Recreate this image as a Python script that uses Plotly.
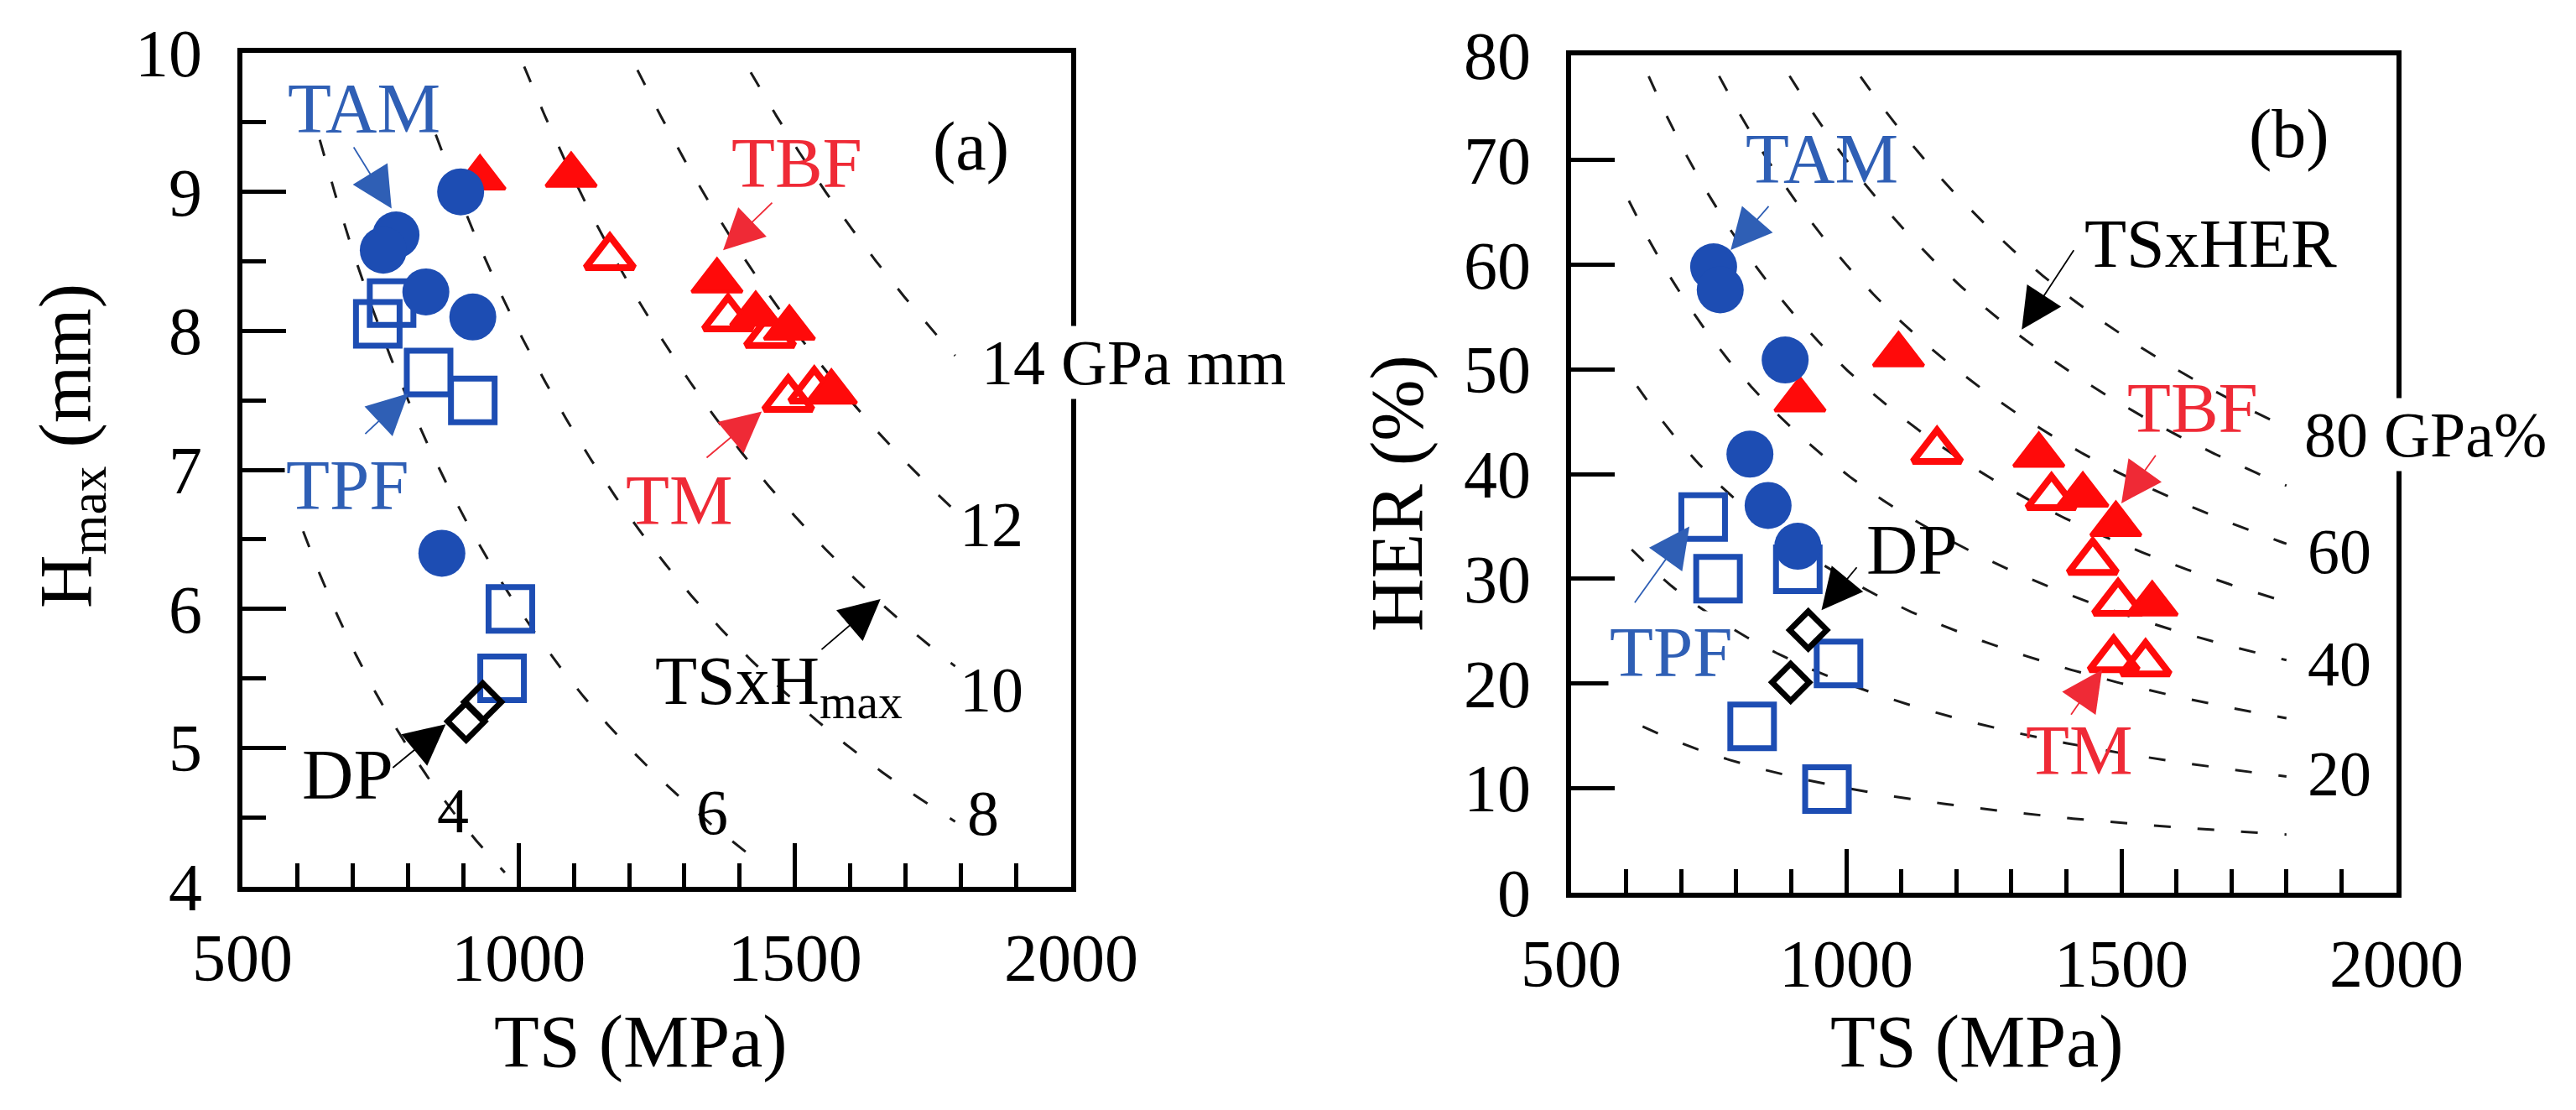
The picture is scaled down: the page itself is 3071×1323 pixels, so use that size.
import numpy as np
import plotly.graph_objects as go

# ---------------- panel (a): TS (MPa) vs Hmax (mm) ----------------
tam_a_ts = [895, 778, 755, 832, 917, 861]
tam_a_h = [9.00, 8.69, 8.58, 8.28, 8.10, 6.40]
tpf_a_ts = [770, 745, 837, 917, 985, 970]
tpf_a_h = [8.20, 8.05, 7.70, 7.50, 6.00, 5.50]
tbf_a_ts = [930, 1095, 1359, 1429, 1490, 1566]
tbf_a_h = [9.10, 9.12, 8.36, 8.12, 8.02, 7.56]
tm_a_ts = [1165, 1379, 1455, 1488, 1535]
tm_a_h = [8.53, 8.09, 7.97, 7.51, 7.57]
dp_a_ts = [905, 935]
dp_a_h = [5.19, 5.33]

# ---------------- panel (b): TS (MPa) vs HER (%) ----------------
tam_b_ts = [759, 771, 889, 825, 858, 912]
tam_b_her = [59.8, 57.6, 50.9, 41.9, 37.0, 33.1]
tpf_b_ts = [740, 767, 912, 986, 829, 965]
tpf_b_her = [35.9, 30.0, 30.9, 21.9, 15.9, 9.9]
tbf_b_ts = [916, 1095, 1350, 1430, 1490, 1556]
tbf_b_her = [47.1, 51.4, 41.8, 38.0, 35.2, 27.6]
tm_b_ts = [1165, 1373, 1448, 1494, 1486, 1544]
tm_b_her = [42.2, 37.8, 31.6, 27.7, 22.3, 21.9]
dp_b_ts = [931, 899]
dp_b_her = [25.1, 20.1]

# iso-product guide curves  TS x H = const (GPa mm)  and TS x HER = const (GPa %)
iso_a_levels = [4, 6, 8, 10, 12, 14]
iso_a_ts_start = [610, 640, 850, 1010, 1215, 1420]
iso_a_ts_end = [975, 1420, 1790, 1790, 1790, 1790]
iso_b_levels = [10, 20, 30, 40, 50, 60, 70, 80]
iso_b_ts_start = [630, 610, 620, 605, 641, 769, 897, 1026]
iso_b_ts_end = [1800, 1800, 1800, 1800, 1800, 1800, 1800, 1800]

iso_a_label_text = ["4", "6", "8", "10", "12", "14 GPa mm"]
iso_a_label_ts = [881, 1350, 1840, 1856, 1856, 1834]
iso_a_label_h = [4.55, 4.54, 4.53, 5.42, 6.61, 7.77]
iso_b_label_text = ["20", "40", "60", "80 GPa%"]
iso_b_label_ts = [1896, 1896, 1896, 1830]
iso_b_label_her = [11.4, 21.9, 32.6, 43.8]

# series labels and arrows
lab_a_text = ["TAM", "TPF", "TBF", "TM", "DP"]
lab_a_ts = [720, 690, 1503, 1291, 691]
lab_a_h = [9.60, 6.89, 9.21, 6.78, 4.81]
lab_b_text = ["TAM", "TPF", "TBF", "TM", "DP", "TSxHER"]
lab_b_ts = [956, 681, 1630, 1424, 1119, 1662]
lab_b_her = [70.1, 23.0, 46.3, 13.6, 32.8, 62.0]

arr_a_tail_ts = [700, 720, 1461, 1338, 770, 1546]
arr_a_tail_h = [9.33, 7.25, 8.93, 7.08, 4.85, 5.70]
arr_a_tip_ts = [770, 800, 1370, 1440, 868, 1655]
arr_a_tip_h = [8.88, 7.55, 8.58, 7.42, 5.17, 6.07]
arr_b_tail_ts = [861, 614, 1564, 1407, 1021, 1415]
arr_b_tail_her = [65.7, 27.6, 41.9, 16.9, 31.2, 61.5]
arr_b_tip_ts = [790, 715, 1500, 1465, 955, 1319]
arr_b_tip_her = [61.4, 35.0, 37.2, 21.3, 27.0, 53.8]

BLUE = "#1d4db3"
BLUE_T = "#2f5fb5"
RED = "#ff0a0a"
RED_T = "#ef2a36"
BLACK = "#000000"
FONT = "Liberation Serif, Times New Roman, serif"

col_a = [BLUE_T, BLUE_T, RED_T, RED_T, BLACK]
col_b = [BLUE_T, BLUE_T, RED_T, RED_T, BLACK, BLACK]
arr_col_a = [BLUE_T, BLUE_T, RED_T, RED_T, BLACK, BLACK]
arr_col_b = [BLUE_T, BLUE_T, RED_T, RED_T, BLACK, BLACK]

fig = go.Figure()

# guide curves
for lev, s, e in zip(iso_a_levels, iso_a_ts_start, iso_a_ts_end):
    ts = np.linspace(s, e, 200)
    fig.add_trace(go.Scatter(x=ts, y=lev * 1000.0 / ts, mode="lines", xaxis="x", yaxis="y",
                             line=dict(color="#1a1a1a", width=3, dash="20px,32px"),
                             hoverinfo="skip", showlegend=False))
for lev, s, e in zip(iso_b_levels, iso_b_ts_start, iso_b_ts_end):
    ts = np.linspace(s, e, 200)
    fig.add_trace(go.Scatter(x=ts, y=lev * 1000.0 / ts, mode="lines", xaxis="x2", yaxis="y2",
                             line=dict(color="#1a1a1a", width=3, dash="20px,32px"),
                             hoverinfo="skip", showlegend=False))


def markers(x, y, xa, ya, symbol, color, size, lw, lcolor=None):
    fig.add_trace(go.Scatter(x=x, y=y, mode="markers", xaxis=xa, yaxis=ya, showlegend=False,
                             marker=dict(symbol=symbol, size=size, color=color,
                                         line=dict(width=lw, color=lcolor or color))))


for xa, ya, d in [("x", "y", (tm_a_ts, tm_a_h, tbf_a_ts, tbf_a_h, tpf_a_ts, tpf_a_h,
                               tam_a_ts, tam_a_h, dp_a_ts, dp_a_h)),
                  ("x2", "y2", (tm_b_ts, tm_b_her, tbf_b_ts, tbf_b_her, tpf_b_ts, tpf_b_her,
                                tam_b_ts, tam_b_her, dp_b_ts, dp_b_her))]:
    markers(d[0], d[1], xa, ya, "triangle-up-open", RED, 50, 8)
    markers(d[2], d[3], xa, ya, "triangle-up", RED, 52, 4)
    markers(d[4], d[5], xa, ya, "square-open", BLUE, 52, 7)
    markers(d[6], d[7], xa, ya, "circle", BLUE, 56, 0)
    markers(d[8], d[9], xa, ya, "diamond-open", BLACK, 34, 7)

ann = []


def label(text, x, y, xref, yref, size, color=BLACK, xanchor="center", bg=None, angle=0):
    ann.append(dict(text=text, x=x, y=y, xref=xref, yref=yref, showarrow=False,
                    xanchor=xanchor, yanchor="middle", textangle=angle, bgcolor=bg,
                    font=dict(family=FONT, size=size, color=color)))


# series labels
for t, x, y, c in zip(lab_a_text, lab_a_ts, lab_a_h, col_a):
    label(t, x, y, "x", "y", 85, c, bg="white" if t == "TPF" else None)
label("TSxH<sub>max</sub>", 1244, 5.45, "x", "y", 82, xanchor="left")
for t, x, y, c in zip(lab_b_text, lab_b_ts, lab_b_her, col_b):
    label(t, x, y, "x2", "y2", 85 if t != "TSxHER" else 82, c, bg="white" if t == "TPF" else None)
# arrows
for i in range(len(arr_a_tip_ts)):
    ann.append(dict(text="", x=arr_a_tip_ts[i], y=arr_a_tip_h[i], ax=arr_a_tail_ts[i], ay=arr_a_tail_h[i],
                    xref="x", yref="y", axref="x", ayref="y", showarrow=True, arrowhead=2,
                    arrowsize=5.4, arrowwidth=1.8, arrowcolor=arr_col_a[i]))
for i in range(len(arr_b_tip_ts)):
    ann.append(dict(text="", x=arr_b_tip_ts[i], y=arr_b_tip_her[i], ax=arr_b_tail_ts[i], ay=arr_b_tail_her[i],
                    xref="x2", yref="y2", axref="x2", ayref="y2", showarrow=True, arrowhead=2,
                    arrowsize=5.4, arrowwidth=1.8, arrowcolor=arr_col_b[i]))
# iso labels
for t, x, y in zip(iso_a_label_text, iso_a_label_ts, iso_a_label_h):
    label(t, x, y, "x", "y", 76, xanchor="left" if "GPa" in t else "center",
          bg="white" if "GPa" in t else None)
for t, x, y in zip(iso_b_label_text, iso_b_label_ts, iso_b_label_her):
    label(t, x, y, "x2", "y2", 76, xanchor="left" if "GPa" in t else "center",
          bg="white" if "GPa" in t else None)
# panel letters
label("(a)", 1818, 9.33, "x", "y", 82)
label("(b)", 1805, 72.5, "x2", "y2", 82)
# axis titles
W, H = 3071, 1323
label("TS (MPa)", 756 / W, (H - 1233) / H, "paper", "paper", 88)
label("TS (MPa)", 2349 / W, (H - 1233) / H, "paper", "paper", 88)
label("H<sub>max</sub> (mm)", 77 / W, (H - 524) / H, "paper", "paper", 88, angle=-90)
label("HER (%)", 1657 / W, (H - 580) / H, "paper", "paper", 88, angle=-90)

common = dict(showgrid=False, zeroline=False, showline=True, linecolor=BLACK, linewidth=6,
              mirror=True, ticks="inside", ticklen=52, tickwidth=5, tickcolor=BLACK,
              automargin=False, tickfont=dict(family=FONT, size=80, color=BLACK))
xcommon = dict(common, range=[500, 2000], tickvals=[500, 1000, 1500, 2000],
               minor=dict(dtick=100, tick0=500, ticks="inside", ticklen=28, tickwidth=5, tickcolor=BLACK),
               ticklabelstandoff=10)

fig.update_layout(
    width=W, height=H, margin=dict(l=0, r=0, t=0, b=0, autoexpand=False),
    paper_bgcolor="white", plot_bgcolor="white", showlegend=False,
    xaxis=dict(xcommon, domain=[281 / W, 1269 / W], anchor="y"),
    yaxis=dict(common, range=[4, 10], dtick=1, domain=[(H - 1049) / H, (H - 55) / H], anchor="x",
               minor=dict(dtick=0.5, tick0=4, ticks="inside", ticklen=28, tickwidth=5, tickcolor=BLACK),
               ticklabelstandoff=26),
    xaxis2=dict(xcommon, domain=[1865 / W, 2849 / W], anchor="y2"),
    yaxis2=dict(common, range=[0, 80], dtick=10, domain=[(H - 1056) / H, (H - 58) / H], anchor="x2",
                ticklabelstandoff=26),
    annotations=ann,
)

fig.write_html("out.html")
